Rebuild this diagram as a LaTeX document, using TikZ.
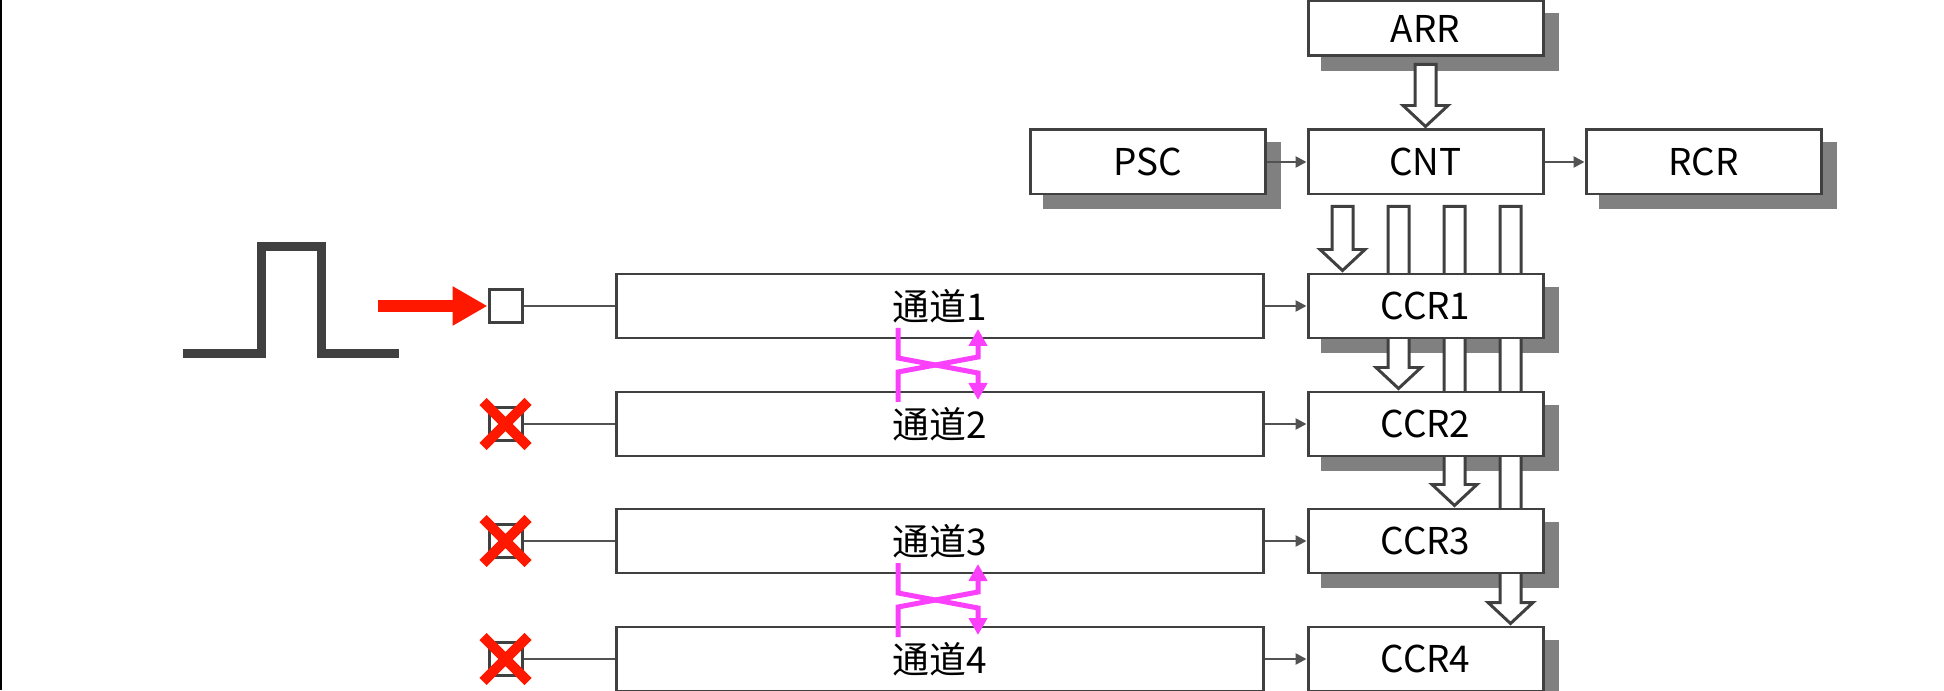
\documentclass[tikz,border=0pt]{standalone}
\usepackage{fontspec}
\setmainfont{Noto Sans CJK SC}
\usetikzlibrary{calc,arrows.meta}
\definecolor{dgray}{RGB}{64,64,64}
\definecolor{lgray}{RGB}{82,82,82}
\definecolor{sgray}{RGB}{128,128,128}
\definecolor{pulsered}{RGB}{255,24,0}
\definecolor{xmag}{RGB}{250,64,250}
\pgfdeclarelayer{shadow}
\pgfdeclarelayer{bars}
\pgfsetlayers{shadow,bars,main}
% hollow arrow: start point, end point (only y of end is used)
\newcommand{\fatarrow}[2]{\draw[fat] let \p1=#1, \p2=#2 in
  ({\x1-0.105cm},\y1) -- ({\x1-0.105cm},{\y2+0.21cm}) -- ({\x1-0.225cm},{\y2+0.21cm}) -- (\x1,\y2)
  -- ({\x1+0.225cm},{\y2+0.21cm}) -- ({\x1+0.105cm},{\y2+0.21cm}) -- ({\x1+0.105cm},\y1) -- cycle;}

\begin{document}
\begin{tikzpicture}[font=\fontsize{10.5pt}{12pt}\selectfont,
  box/.style={draw=dgray, line width=0.85pt, fill=white, minimum width=2.35cm, minimum height=0.64cm, inner sep=0pt},
  chan/.style={box, minimum width=6.47cm},
  pinbox/.style={draw=dgray, line width=0.85pt, fill=white, minimum size=0.33cm, inner sep=0pt},
  conn/.style={draw=lgray, line width=0.7pt},
  arrowline/.style={conn, -{Triangle[length=0.11cm,width=0.11cm]}},
  fat/.style={draw=dgray, line width=0.85pt, fill=white, line join=miter},
  shd/.style={fill=sgray},
  pulse/.style={draw=dgray, line width=0.09cm, line join=miter},
  redarr/.style={draw=pulsered, line width=0.12cm, -{Triangle[length=0.35cm,width=0.37cm]}},
  redx/.style={draw=pulsered, line width=0.1cm},
  xover/.style={draw=xmag, line width=0.05cm, line join=miter, -{Triangle[length=0.17cm,width=0.18cm]}}]
\useasboundingbox (0,0) rectangle (19.44,6.9);
\draw[black, line width=0.025cm] (0.0125,0) -- (0.0125,6.9);

\node[box, minimum height=0.55cm] (ARR) at (14.255,6.615) {ARR};
\node[box] (PSC) at (11.475,5.28) {PSC};
\node[box] (CNT) at (14.255,5.28) {CNT};
\node[box] (RCR) at (17.035,5.28) {RCR};
\draw[arrowline] (PSC) -- (CNT);
\draw[arrowline] (CNT) -- (RCR);

\foreach \i/\y in {1/3.84,2/2.66,3/1.49,4/0.31}{
  \node[chan] (ch\i) at (9.395,\y) {通道\i};
  \node[box] (C\i) at (14.255,\y) {CCR\i};
  \node[pinbox] (s\i) at (5.055,\y) {};
  \draw[conn] (s\i) -- (ch\i);
  \draw[arrowline] (ch\i) -- (C\i);
}

\begin{pgfonlayer}{shadow}
\foreach \n in {ARR,PSC,RCR,C1,C2,C3,C4}
  \fill[shd] ([shift={(0.14,-0.14)}]\n.south west) rectangle ([shift={(0.14,-0.14)}]\n.north east);
\end{pgfonlayer}

\begin{pgfonlayer}{bars}
\fatarrow{([yshift=-0.07cm]ARR.south)}{([yshift=0.02cm]CNT.north)}
\foreach \i/\dx in {1/-0.83,2/-0.27,3/0.29,4/0.85}{
  \fatarrow{($(CNT.south)+(\dx,-0.11)$)}{([yshift=0.02cm]C\i.north)}
}
\end{pgfonlayer}

% input pulse
\draw[pulse] (1.83,3.365) -| (2.615,4.435) -| (3.215,3.365) -- (3.99,3.365);
\coordinate (rin) at (3.78,3.84);
\draw[redarr] (rin) -- (s1);

\foreach \i in {2,3,4}
  \draw[redx] ($(s\i)+(-0.225,-0.225)$) -- ($(s\i)+(0.225,0.225)$)
              ($(s\i)+(-0.225,0.225)$) -- ($(s\i)+(0.225,-0.225)$);

% channel swap
\foreach \m in {3.25,0.90}{
  \draw[xover] (8.98,{\m+0.37}) -- (8.98,{\m+0.07}) -- (9.78,{\m-0.08}) -- (9.78,{\m-0.35});
  \draw[xover] (8.98,{\m-0.37}) -- (8.98,{\m-0.07}) -- (9.78,{\m+0.08}) -- (9.78,{\m+0.36});
}
\end{tikzpicture}
\end{document}
